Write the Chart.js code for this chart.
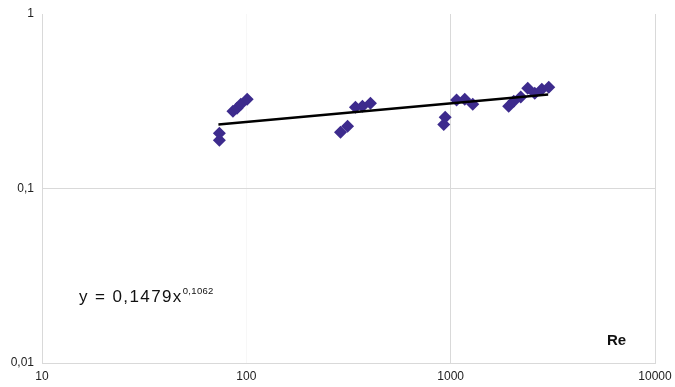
<!DOCTYPE html>
<html>
<head>
<meta charset="utf-8">
<script src="https://cdn.jsdelivr.net/npm/chart.js@4"></script>
<style>
  html, body { margin: 0; padding: 0; background: #fff; }
  #wrap { position: relative; width: 675px; height: 387px; }
  canvas { position: absolute; left: 0; top: 0; }
  .lbl { position: absolute; font-family: "Liberation Sans", Arial, sans-serif; color: #111; white-space: nowrap; }
  #eq { left: 79px; top: 287px; font-size: 17px; letter-spacing: 1.4px; }
  #eq sup { font-size: 9.5px; letter-spacing: 0.3px; position: relative; top: -1px; vertical-align: super; line-height: 0; }
  #re { left: 607px; top: 331px; font-size: 15px; font-weight: bold; }
</style>
</head>
<body>
<div id="wrap">
  <canvas id="c" width="675" height="387"></canvas>
  <div class="lbl" id="eq">y = 0,1479x<sup>0,1062</sup></div>
  <div class="lbl" id="re">Re</div>
</div>
<script>
const reValues = [73.8, 73.8, 86, 90, 94, 101, 289, 313, 342, 370, 405, 925, 940, 1069, 1172, 1283, 1923, 2036, 2203, 2384, 2580, 2793, 3020];
const yValues  = [0.189, 0.207, 0.277, 0.288, 0.304, 0.325, 0.210, 0.227, 0.292, 0.296, 0.308, 0.233, 0.256, 0.321, 0.325, 0.304, 0.296, 0.316, 0.334, 0.376, 0.352, 0.371, 0.380];
// trendline end points (power fit y = 0,1479x^0,1062, read at its ends)
const trendX = [73, 3000];
const trendY = [0.2325, 0.346];
// tick labels
const xTicks = [10, 100, 1000, 10000];
const yTicks = [0.01, 0.1, 1];

const pts = reValues.map((x, i) => ({ x: x, y: yValues[i] }));
const trend = trendX.map((x, i) => ({ x: x, y: trendY[i] }));

const gridCol = '#d9d9d9';
new Chart(document.getElementById('c'), {
  type: 'scatter',
  data: {
    datasets: [
      {
        type: 'line',
        data: trend,
        borderColor: '#000',
        borderWidth: 2.5,
        pointRadius: 0,
        fill: false,
        order: 1
      },
      {
        data: pts,
        pointStyle: 'rectRot',
        pointRadius: 6.5,
        pointHoverRadius: 6.5,
        backgroundColor: '#3d2b8d',
        borderColor: '#3d2b8d',
        borderWidth: 0,
        order: 2
      }
    ]
  },
  options: {
    responsive: false,
    animation: false,
    events: [],
    layout: { padding: { top: 14, right: 20, left: 0, bottom: 0 } },
    plugins: { legend: { display: false }, tooltip: { enabled: false } },
    scales: {
      x: {
        type: 'logarithmic',
        min: 10, max: 10000,
        afterBuildTicks: s => { s.ticks = xTicks.map(v => ({ value: v })); },
        afterFit: s => { s.height = 24; s.paddingLeft = 0; s.paddingRight = 0; },
        border: { display: true, color: gridCol, width: 1 },
        grid: {
          color: ctx => (ctx.tick && ctx.tick.value === 100) ? 'rgba(0,0,0,0.03)' : gridCol,
          lineWidth: 1,
          drawTicks: false
        },
        ticks: {
          color: '#222',
          font: { family: 'Liberation Sans, Arial, sans-serif', size: 12 },
          padding: 6,
          maxRotation: 0,
          autoSkip: false,
          callback: v => String(v)
        }
      },
      y: {
        type: 'logarithmic',
        min: 0.01, max: 1,
        afterBuildTicks: s => { s.ticks = yTicks.map(v => ({ value: v })); },
        afterFit: s => { s.width = 42; s.paddingTop = 0; s.paddingBottom = 0; },
        border: { display: true, color: gridCol, width: 1 },
        grid: {
          color: ctx => (ctx.tick && ctx.tick.value === 1) ? 'rgba(0,0,0,0)' : gridCol,
          lineWidth: 1,
          drawTicks: false
        },
        ticks: {
          color: '#222',
          font: { family: 'Liberation Sans, Arial, sans-serif', size: 12 },
          padding: 8,
          autoSkip: false,
          callback: v => String(v).replace('.', ',')
        }
      }
    }
  }
});
</script>
</body>
</html>
